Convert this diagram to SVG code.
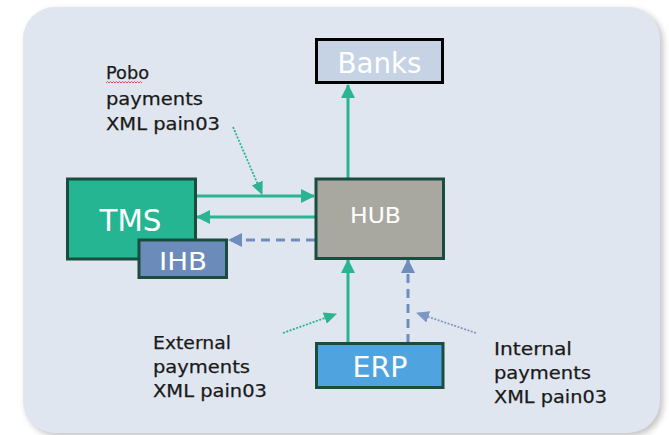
<svg xmlns="http://www.w3.org/2000/svg" width="669" height="435" viewBox="0 0 669 435">
<defs>
<style>
.lbl{font-family:"DejaVu Sans",Verdana,sans-serif;font-size:18px;fill:#1a1a1a;stroke:#1a1a1a;stroke-width:0.25}
.box{font-family:"DejaVu Sans",Verdana,sans-serif;fill:#ffffff;text-anchor:middle}
.g{stroke:#2ab48f;stroke-width:3;fill:none}
.b{stroke:#6e8dbd;stroke-width:3;fill:none;stroke-dasharray:9 6}
.gd{stroke:#2ab48f;stroke-width:1.8;fill:none;stroke-dasharray:2 1.5}
.bd{stroke:#7d96c4;stroke-width:1.8;fill:none;stroke-dasharray:2 1.5}
</style>
<marker id="ag" markerUnits="userSpaceOnUse" markerWidth="14" markerHeight="14" viewBox="0 0 14 14" refX="13" refY="7" orient="auto"><path d="M0,0 L14,7 L0,14 Z" fill="#2ab48f"/></marker>
<marker id="ab" markerUnits="userSpaceOnUse" markerWidth="14" markerHeight="14" viewBox="0 0 14 14" refX="13" refY="7" orient="auto"><path d="M0,0 L14,7 L0,14 Z" fill="#6e8dbd"/></marker>
<marker id="agd" markerUnits="userSpaceOnUse" markerWidth="13" markerHeight="12" viewBox="0 0 13 12" refX="12" refY="6" orient="auto"><path d="M0,0 L13,6 L0,12 Z" fill="#2ab48f"/></marker>
<marker id="abd" markerUnits="userSpaceOnUse" markerWidth="13" markerHeight="12" viewBox="0 0 13 12" refX="12" refY="6" orient="auto"><path d="M0,0 L13,6 L0,12 Z" fill="#7d96c4"/></marker>
<filter id="sh" x="-5%" y="-5%" width="110%" height="110%"><feGaussianBlur stdDeviation="3"/></filter>
</defs>
<rect width="669" height="435" fill="#ffffff"/>
<rect x="26" y="10" width="637" height="426" rx="32" fill="#9a9a9a" opacity="0.6" filter="url(#sh)"/>
<rect x="23" y="7" width="637" height="426" rx="32" fill="#e0e6f0"/>

<g id="connectors">
<line class="g" x1="348" y1="178" x2="348" y2="85" marker-end="url(#ag)"/>
<line class="g" x1="197" y1="196" x2="314" y2="196" marker-end="url(#ag)"/>
<line class="g" x1="315" y1="217" x2="197" y2="217" marker-end="url(#ag)"/>
<line class="b" x1="315" y1="240" x2="229" y2="240" marker-end="url(#ab)"/>
<line class="g" x1="348" y1="343" x2="348" y2="260" marker-end="url(#ag)"/>
<line class="b" x1="408" y1="343" x2="408" y2="260" marker-end="url(#ab)"/>
<line class="gd" x1="233" y1="127" x2="262" y2="194" marker-end="url(#agd)"/>
<line class="gd" x1="283" y1="333" x2="336" y2="314" marker-end="url(#agd)"/>
<line class="bd" x1="476" y1="333" x2="417" y2="313" marker-end="url(#abd)"/>
</g>

<g id="banks">
<rect x="316.5" y="39.5" width="126" height="43" fill="#c6d3e4" stroke="#000000" stroke-width="3"/>
<text class="box" x="379.5" y="72.5" font-size="28" textLength="84" lengthAdjust="spacingAndGlyphs">Banks</text>
</g>

<g id="tms">
<rect x="67.5" y="179" width="128" height="80" fill="#25b592" stroke="#1b4d3e" stroke-width="3"/>
<text class="box" x="130.5" y="230.5" font-size="30" textLength="62" lengthAdjust="spacingAndGlyphs">TMS</text>
</g>

<g id="ihb">
<rect x="139" y="240" width="87.5" height="37.5" fill="#6b8bbb" stroke="#1b4d3e" stroke-width="3"/>
<text class="box" x="183" y="269.5" font-size="25" textLength="48" lengthAdjust="spacingAndGlyphs">IHB</text>
</g>

<g id="hub">
<rect x="316" y="179" width="127.5" height="79.5" fill="#a8a8a0" stroke="#1b4d3e" stroke-width="3"/>
<text class="box" x="375.5" y="222.5" font-size="22" textLength="51" lengthAdjust="spacingAndGlyphs">HUB</text>
</g>

<g id="erp">
<rect x="316.5" y="343.5" width="126.5" height="44" fill="#4fa4e0" stroke="#1b4d3e" stroke-width="3"/>
<text class="box" x="380" y="376.5" font-size="28" textLength="55" lengthAdjust="spacingAndGlyphs">ERP</text>
</g>

<g id="pobo-label">
<text class="lbl" x="106" y="79" textLength="43" lengthAdjust="spacingAndGlyphs">Pobo</text>
<path d="M106,83 l1.5,-1.5 l1.5,1.5 l1.5,-1.5 l1.5,1.5 l1.5,-1.5 l1.5,1.5 l1.5,-1.5 l1.5,1.5 l1.5,-1.5 l1.5,1.5 l1.5,-1.5 l1.5,1.5 l1.5,-1.5 l1.5,1.5 l1.5,-1.5 l1.5,1.5 l1.5,-1.5 l1.5,1.5 l1.5,-1.5 l1.5,1.5 l1.5,-1.5 l1.5,1.5 l1.5,-1.5 l1.5,1.5" fill="none" stroke="#e8474f" stroke-width="1"/>
<text class="lbl" x="106" y="104.5" textLength="97" lengthAdjust="spacingAndGlyphs">payments</text>
<text class="lbl" x="106" y="130" textLength="114" lengthAdjust="spacingAndGlyphs">XML pain03</text>
</g>

<g id="external-label">
<text class="lbl" x="153" y="349" textLength="78" lengthAdjust="spacingAndGlyphs">External</text>
<text class="lbl" x="153" y="373" textLength="97" lengthAdjust="spacingAndGlyphs">payments</text>
<text class="lbl" x="153" y="397" textLength="114" lengthAdjust="spacingAndGlyphs">XML pain03</text>
</g>

<g id="internal-label">
<text class="lbl" x="494" y="355" textLength="78" lengthAdjust="spacingAndGlyphs">Internal</text>
<text class="lbl" x="494" y="379" textLength="97" lengthAdjust="spacingAndGlyphs">payments</text>
<text class="lbl" x="494" y="403" textLength="113" lengthAdjust="spacingAndGlyphs">XML pain03</text>
</g>
</svg>
